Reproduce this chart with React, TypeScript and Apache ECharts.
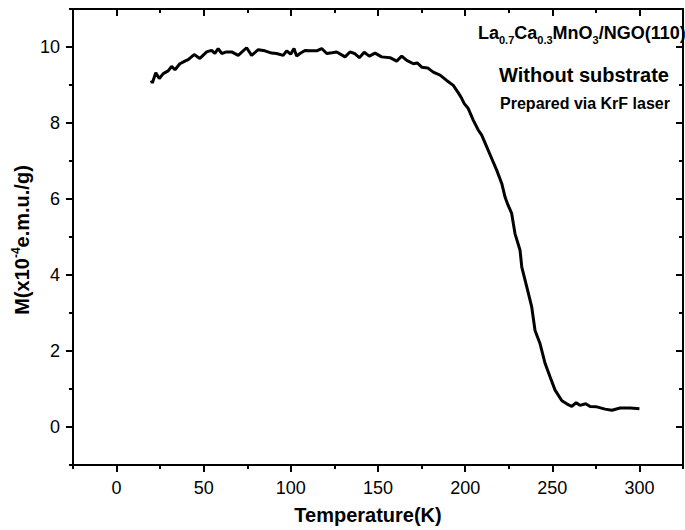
import React, { useEffect, useRef } from "react";
import * as echarts from "echarts";

const temperature = [
  20, 20.5, 22.5, 24.5, 26.8, 29.6, 31.6, 33.5, 36.3, 39.2,
  41.1, 44.5, 47.8, 51.7, 54.5, 56.4, 58.3, 60.3, 63.1, 66,
  69.8, 74.6, 77.5, 81.3, 85.1, 89, 91.8, 95.6, 97.6, 99.9,
  101.8, 103.3, 105.2, 108.1, 111, 114.8, 117.7, 120.6, 123.5, 126.3,
  131.1, 133.9, 136.5, 139.3, 142.1, 145, 148.3, 152.1, 156.9, 160.7,
  163.6, 166.5, 170.3, 172.5, 175.1, 178.5, 181.7, 185.6, 189.4, 193.2,
  196, 198, 199.5, 201.8, 204.7, 207.6, 209.5, 212.4, 215.3, 218.1,
  221, 222.9, 224.5, 226.7, 228.6, 231.5, 232.5, 235.4, 238.2, 240.1,
  243, 245.9, 248.7, 251.6, 255.5, 258.3, 261.2, 263.7, 265.9, 269.2,
  271.7, 275.5, 280.3, 284.2, 288.9, 294.7, 300,
];

const magnetization = [
  9.12, 9.05, 9.32, 9.17, 9.3, 9.37, 9.49, 9.4, 9.56, 9.63,
  9.67, 9.8, 9.7, 9.87, 9.91, 9.83, 9.96, 9.83, 9.87, 9.87,
  9.78, 9.98, 9.78, 9.93, 9.9, 9.84, 9.83, 9.78, 9.9, 9.81,
  9.96, 9.76, 9.83, 9.91, 9.9, 9.9, 9.96, 9.83, 9.85, 9.87,
  9.74, 9.87, 9.83, 9.72, 9.86, 9.76, 9.84, 9.74, 9.72, 9.63,
  9.76, 9.65, 9.56, 9.58, 9.47, 9.45, 9.34, 9.26, 9.12, 8.99,
  8.8, 8.65, 8.51, 8.38, 8.07, 7.81, 7.68, 7.37, 7.06, 6.76,
  6.41, 6.05, 5.85, 5.62, 5.09, 4.65, 4.21, 3.68, 3.16, 2.54,
  2.19, 1.67, 1.32, 0.97, 0.69, 0.61, 0.54, 0.64, 0.57, 0.61,
  0.54, 0.53, 0.47, 0.44, 0.5, 0.5, 0.48,
];

const xMajorTicks = [0, 50, 100, 150, 200, 250, 300];
const xMinorTicks = [-25, 25, 75, 125, 175, 225, 275, 325];
const yMajorTicks = [0, 2, 4, 6, 8, 10];
const yMinorTicks = [-1, 1, 3, 5, 7, 9, 11];

const FONT = "'Liberation Sans', Arial, Helvetica, sans-serif";

export default function App() {
  const ref = useRef<HTMLDivElement>(null);

  useEffect(() => {
    if (!ref.current) return;
    const chart = echarts.init(ref.current, null, { renderer: "svg" });
    const line = { show: true, onZero: false, lineStyle: { color: "#000", width: 2 } };
    const noLine = { show: false, onZero: false };

    const mkX = (pos: string, vals: number[], len: number, inside: boolean, labels: boolean, showLine: boolean) => ({
      type: "value",
      position: pos,
      min: -25,
      max: 325,
      axisLine: showLine ? line : noLine,
      splitLine: { show: false },
      axisTick: { show: true, inside, length: len, customValues: vals, lineStyle: { color: "#000", width: 2 } },
      axisLabel: labels
        ? { show: true, customValues: vals, margin: 14, fontSize: 18, color: "#000", fontFamily: FONT }
        : { show: false },
    });
    const mkY = (pos: string, vals: number[], len: number, inside: boolean, labels: boolean, showLine: boolean) => ({
      type: "value",
      position: pos,
      min: -1,
      max: 11,
      axisLine: showLine ? line : noLine,
      splitLine: { show: false },
      axisTick: { show: true, inside, length: len, customValues: vals, lineStyle: { color: "#000", width: 2 } },
      axisLabel: labels
        ? { show: true, customValues: vals, margin: 13, fontSize: 18, color: "#000", fontFamily: FONT }
        : { show: false },
    });

    const sub = { fontSize: 11, lineHeight: 11, verticalAlign: "bottom", fontWeight: "bold", fontFamily: FONT, fill: "#000", color: "#000" };
    const main18 = { fontSize: 18, lineHeight: 24, verticalAlign: "middle", fontWeight: "bold", fontFamily: FONT, fill: "#000", color: "#000" };

    chart.setOption({
      animation: false,
      backgroundColor: "#fff",
      grid: { left: 73, top: 9, width: 610, height: 456, containLabel: false, outerBoundsMode: "none" },
      xAxis: [
        mkX("bottom", xMajorTicks, 7, false, true, true),
        mkX("bottom", xMinorTicks, 4, false, false, false),
        mkX("top", xMajorTicks, 7, true, false, true),
        mkX("top", xMinorTicks, 4, true, false, false),
      ],
      yAxis: [
        mkY("left", yMajorTicks, 7, false, true, true),
        mkY("left", yMinorTicks, 4, false, false, false),
        mkY("right", yMajorTicks, 7, true, false, true),
        mkY("right", yMinorTicks, 4, true, false, false),
      ],
      series: [
        {
          type: "line",
          xAxisIndex: 0,
          yAxisIndex: 0,
          data: temperature.map((t, i) => [t, magnetization[i]]),
          showSymbol: false,
          symbol: "none",
          lineStyle: { color: "#000", width: 3 },
          itemStyle: { color: "#000" },
        },
      ],
      graphic: [
        {
          type: "text",
          left: 478,
          top: 24,
          style: {
            text: "{m|La}{s|0.7}{m|Ca}{s|0.3}{m|MnO}{s|3}{m|/NGO(110)}",
            rich: { m: main18, s: sub },
            fill: "#000",
          },
        },
        {
          type: "text",
          x: 584,
          y: 75,
          style: {
            text: "Without substrate",
            font: `bold 20px ${FONT}`,
            fill: "#000",
            align: "center",
            verticalAlign: "middle",
            textAlign: "center",
            textVerticalAlign: "middle",
          },
        },
        {
          type: "text",
          x: 585,
          y: 103,
          style: {
            text: "Prepared via KrF laser",
            font: `bold 16px ${FONT}`,
            fill: "#000",
            align: "center",
            verticalAlign: "middle",
            textAlign: "center",
            textVerticalAlign: "middle",
          },
        },
        {
          type: "text",
          x: 368,
          y: 515,
          style: {
            text: "Temperature(K)",
            font: `bold 20px ${FONT}`,
            fill: "#000",
            align: "center",
            verticalAlign: "middle",
            textAlign: "center",
            textVerticalAlign: "middle",
          },
        },
        {
          type: "text",
          x: 22,
          y: 240,
          rotation: Math.PI / 2,
          style: {
            text: "{m|M(x10}{p|-4}{m|e.m.u./g)}",
            rich: {
              m: { fontSize: 20, lineHeight: 24, verticalAlign: "middle", fontWeight: "bold", fontFamily: FONT, fill: "#000", color: "#000" },
              p: { fontSize: 12, lineHeight: 12, verticalAlign: "top", fontWeight: "bold", fontFamily: FONT, fill: "#000", color: "#000" },
            },
            fill: "#000",
            align: "center",
            verticalAlign: "middle",
            textAlign: "center",
            textVerticalAlign: "middle",
          },
        },
      ],
    });
    return () => chart.dispose();
  }, []);

  return (
    <div
      ref={ref}
      style={{ position: "fixed", left: 0, top: 0, width: 685, height: 530, background: "#fff" }}
    />
  );
}
